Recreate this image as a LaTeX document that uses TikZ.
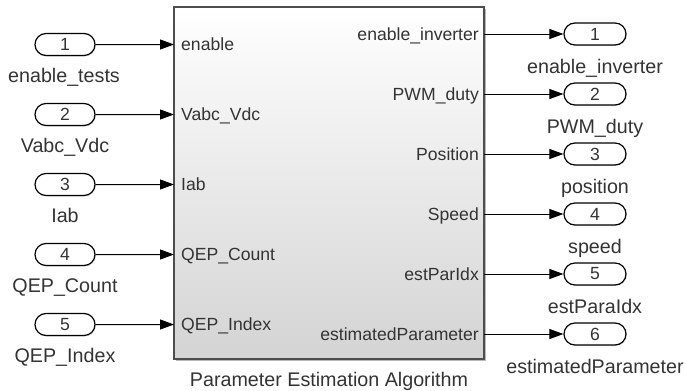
\documentclass[tikz,border=0pt]{standalone}
\usepackage{fontspec}
\setmainfont{Liberation Sans}
\usetikzlibrary{arrows.meta,positioning,shapes.misc,shadows}
\definecolor{SLtext}{HTML}{333333}
\definecolor{SLedge}{HTML}{4D4D4D}
\tikzset{
  sl/port/.style={draw=black, rounded rectangle, line width=1.2pt, fill=white, minimum width=60pt, minimum height=22pt, inner sep=0pt, text=SLtext, font=\fontsize{17.6}{20}\selectfont, drop shadow={shadow xshift=1pt, shadow yshift=-1pt, opacity=0.25}},
  sl/block/.style={draw=SLedge, line width=1.5pt, minimum width=310pt, minimum height=352pt, inner sep=0pt, top color=white, middle color=black!4, bottom color=black!17, drop shadow={shadow xshift=2pt, shadow yshift=-2pt, opacity=0.55}},
  sl/pin/.style={anchor=west, inner xsep=7pt, inner ysep=0pt, text height=12.7pt, text depth=0pt, text=SLtext, font=\fontsize{17.6}{20}\selectfont},
  sl/pout/.style={sl/pin, anchor=east, inner xsep=5pt},
  sl/name/.style={inner sep=0pt, text height=14pt, text depth=0pt, text=SLtext, font=\fontsize{19.7}{22}\selectfont},
  arr/.style={-{Triangle[length=14pt,width=10pt]}, line width=1pt}
}
\begin{document}
\begin{tikzpicture}[x=1pt,y=-1pt]
\useasboundingbox (0,0) rectangle (686,391);
% subsystem
\node[sl/block] (pea) at (329,183) {};
\node[sl/name] (peaname) at (329,379) {Parameter Estimation Algorithm};
% inports
\node[sl/port] (in1) at (65,44.5) {1};
\node[sl/port] (in2) at (65,114.5) {2};
\node[sl/port] (in3) at (65,184.5) {3};
\node[sl/port] (in4) at (65,254.5) {4};
\node[sl/port] (in5) at (65,324.5) {5};
\node[sl/name] (in1name) at (64,75) {enable\_tests};
\node[sl/name] (in2name) at (65,145) {Vabc\_Vdc};
\node[sl/name] (in3name) at (65,215) {Iab};
\node[sl/name] (in4name) at (65,285) {QEP\_Count};
\node[sl/name] (in5name) at (65,355) {QEP\_Index};
\node[sl/pin] (pin1) at (174,44.5) {enable};
\node[sl/pin] (pin2) at (174,114.5) {Vabc\_Vdc};
\node[sl/pin] (pin3) at (174,184.5) {Iab};
\node[sl/pin] (pin4) at (174,254.5) {QEP\_Count};
\node[sl/pin] (pin5) at (174,324.5) {QEP\_Index};
% outports
\node[sl/pout] (pout1) at (484,34) {enable\_inverter};
\node[sl/pout] (pout2) at (484,94) {PWM\_duty};
\node[sl/pout] (pout3) at (484,154) {Position};
\node[sl/pout] (pout4) at (484,214) {Speed};
\node[sl/pout] (pout5) at (484,274) {estParIdx};
\node[sl/pout] (pout6) at (484,334) {estimatedParameter};
\node[sl/port, minimum width=62pt] (out1) at (595,34) {1};
\node[sl/port, minimum width=62pt] (out2) at (595,94) {2};
\node[sl/port, minimum width=62pt] (out3) at (595,154) {3};
\node[sl/port, minimum width=62pt] (out4) at (595,214) {4};
\node[sl/port, minimum width=62pt] (out5) at (595,274) {5};
\node[sl/port, minimum width=62pt] (out6) at (595,334) {6};
\node[sl/name] (out1name) at (595,66) {enable\_inverter};
\node[sl/name] (out2name) at (595,126) {PWM\_duty};
\node[sl/name] (out3name) at (595,186) {position};
\node[sl/name] (out4name) at (595,246) {speed};
\node[sl/name] (out5name) at (595,306) {estParaIdx};
\node[sl/name] (out6name) at (595,366) {estimatedParameter};
% signal lines
\draw[arr] (in1) -- (pin1.west); \draw[arr] (in2) -- (pin2.west); \draw[arr] (in3) -- (pin3.west);
\draw[arr] (in4) -- (pin4.west); \draw[arr] (in5) -- (pin5.west);
\draw[arr] (pout1.east) -- (out1); \draw[arr] (pout2.east) -- (out2); \draw[arr] (pout3.east) -- (out3);
\draw[arr] (pout4.east) -- (out4); \draw[arr] (pout5.east) -- (out5); \draw[arr] (pout6.east) -- (out6);
\end{tikzpicture}
\end{document}
